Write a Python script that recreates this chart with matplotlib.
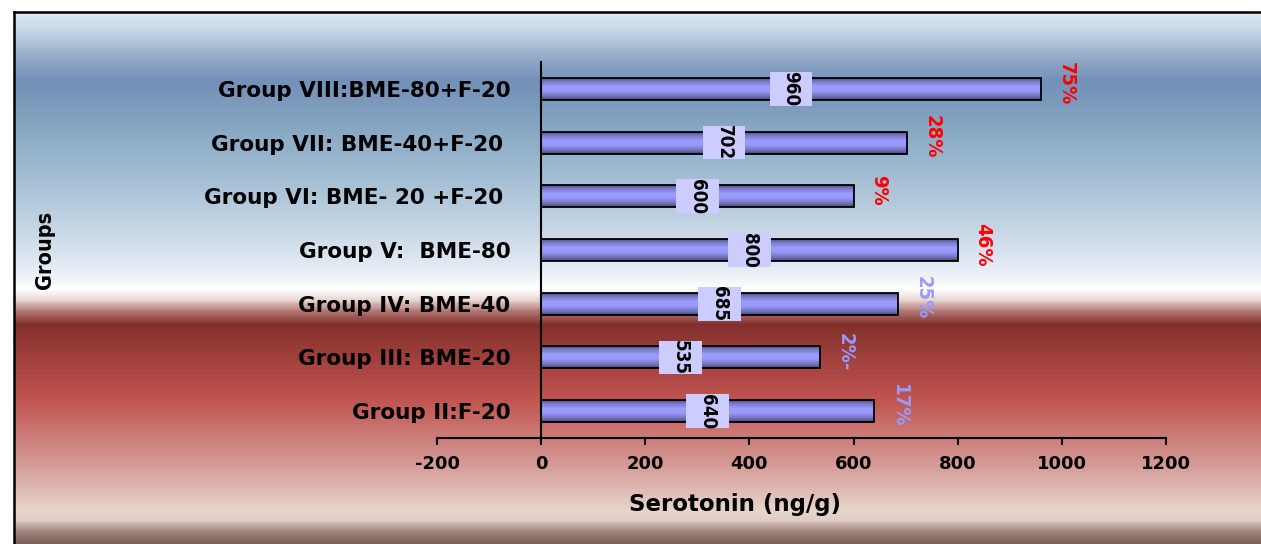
import matplotlib
matplotlib.use('Agg')
import matplotlib.pyplot as plt
from matplotlib.colors import LinearSegmentedColormap
from matplotlib.patches import Rectangle
import numpy as np

groups = ["Group II:F-20", "Group III: BME-20", "Group IV: BME-40", "Group V:  BME-80",
          "Group VI: BME- 20 +F-20 ", "Group VII: BME-40+F-20 ", "Group VIII:BME-80+F-20"]
serotonin = [640, 535, 685, 800, 600, 702, 960]
pct_labels = ["17%", "2%-", "25%", "46%", "9%", "28%", "75%"]
pct_colors = ["#9999ff", "#9999ff", "#9999ff", "#ff0000", "#ff0000", "#ff0000", "#ff0000"]
xticks = [-200, 0, 200, 400, 600, 800, 1000, 1200]

W, H = 1261, 544
fig = plt.figure(figsize=(W/100, H/100), dpi=100)

# backdrop: blue -> white -> dark red -> pale pink, top to bottom
bg_stops = [(12, '#dde9f3'), (30, '#c4d6e6'), (55, '#94acc8'), (80, '#7390b8'),
            (121, '#84a4c0'), (173, '#a0bcd2'), (225, '#c4d4e4'), (270, '#e6edf5'),
            (290, '#ffffff'), (300, '#e8d6d4'), (312, '#b07470'), (325, '#82302c'),
            (345, '#963a36'), (400, '#c05450'), (451, '#d08a86'), (493, '#e0bcb6'),
            (513, '#e8d6ce'), (522, '#e0ccc6'), (532, '#a48882'), (544, '#7e625c')]
bg_cmap = LinearSegmentedColormap.from_list(
    'bg', [((y-12)/532, c) for y, c in bg_stops])
bg = fig.add_axes([14/W, 0, 1-14/W, 532/H], zorder=0)
bg.imshow(np.linspace(0, 1, 600).reshape(-1, 1), cmap=bg_cmap, aspect='auto',
          extent=[0, 1, 0, 1], interpolation='bilinear')
bg.set_xticks([]); bg.set_yticks([])
for s in ['right', 'bottom']:
    bg.spines[s].set_visible(False)
for s in ['left', 'top']:
    bg.spines[s].set_linewidth(1.8)

ax = fig.add_axes([437/W, 1-438/H, 729/W, 376/H], zorder=1)
ax.patch.set_alpha(0)

ypos = np.arange(len(groups))
bar_h = 0.41
bars = ax.barh(ypos, serotonin, height=bar_h, color='none', edgecolor='black',
               linewidth=1.3, zorder=3)

bar_cmap = LinearSegmentedColormap.from_list(
    'bar', [(0, '#40406a'), (0.18, '#7878c8'), (0.42, '#9c9cff'),
            (0.62, '#9898fa'), (0.85, '#7070b8'), (1, '#4a4a74')])
grad = np.linspace(0, 1, 64).reshape(-1, 1)
for b, v, y in zip(bars, serotonin, ypos):
    im = ax.imshow(grad, cmap=bar_cmap, aspect='auto', zorder=2,
                   extent=[0, v, y - bar_h/2, y + bar_h/2], origin='upper')
    im.set_clip_path(b)

narrow = dict(family='DejaVu Sans', fontstretch='condensed', fontweight='bold')
for v, y in zip(serotonin, ypos):
    ax.add_patch(Rectangle((v/2 - 41, y - 0.315), 82, 0.63, facecolor='#ccccff',
                           edgecolor='none', zorder=4))
    ax.text(v/2, y, str(v), rotation=270, ha='center', va='center', fontsize=13.5,
            zorder=5, **narrow)

for v, y, t, c in zip(serotonin, ypos, pct_labels, pct_colors):
    ax.annotate(t, (v, y), xytext=(18, 4), textcoords='offset points', rotation=270,
                ha='center', va='center', fontsize=14.5, color=c, zorder=5, **narrow)

ax.set_xlim(-200, 1200)
ax.set_ylim(-0.5, len(groups) - 0.5)
ax.spines['left'].set_position(('data', 0))
ax.spines['top'].set_visible(False)
ax.spines['right'].set_visible(False)
ax.spines['left'].set_linewidth(1.5)
ax.spines['bottom'].set_linewidth(1.5)

ax.set_yticks(ypos)
ax.set_yticklabels(groups, fontsize=15.5, fontweight='bold', family='DejaVu Sans')
ax.tick_params(axis='y', length=0, pad=22)
ax.set_xticks(xticks)
ax.set_xticklabels([str(t) for t in xticks], fontsize=13, fontweight='bold',
                   family='DejaVu Sans')
ax.tick_params(axis='x', length=5, width=1.5, direction='out', pad=7)

fig.text(735/W, 1-505/H, 'Serotonin (ng/g)', ha='center', va='center',
         fontsize=16.5, fontweight='bold', family='DejaVu Sans')
fig.text(45/W, 1-250/H, 'Groups', ha='center', va='center', rotation=90,
         fontsize=15.5, **narrow)

plt.savefig('out.png', dpi=100)
